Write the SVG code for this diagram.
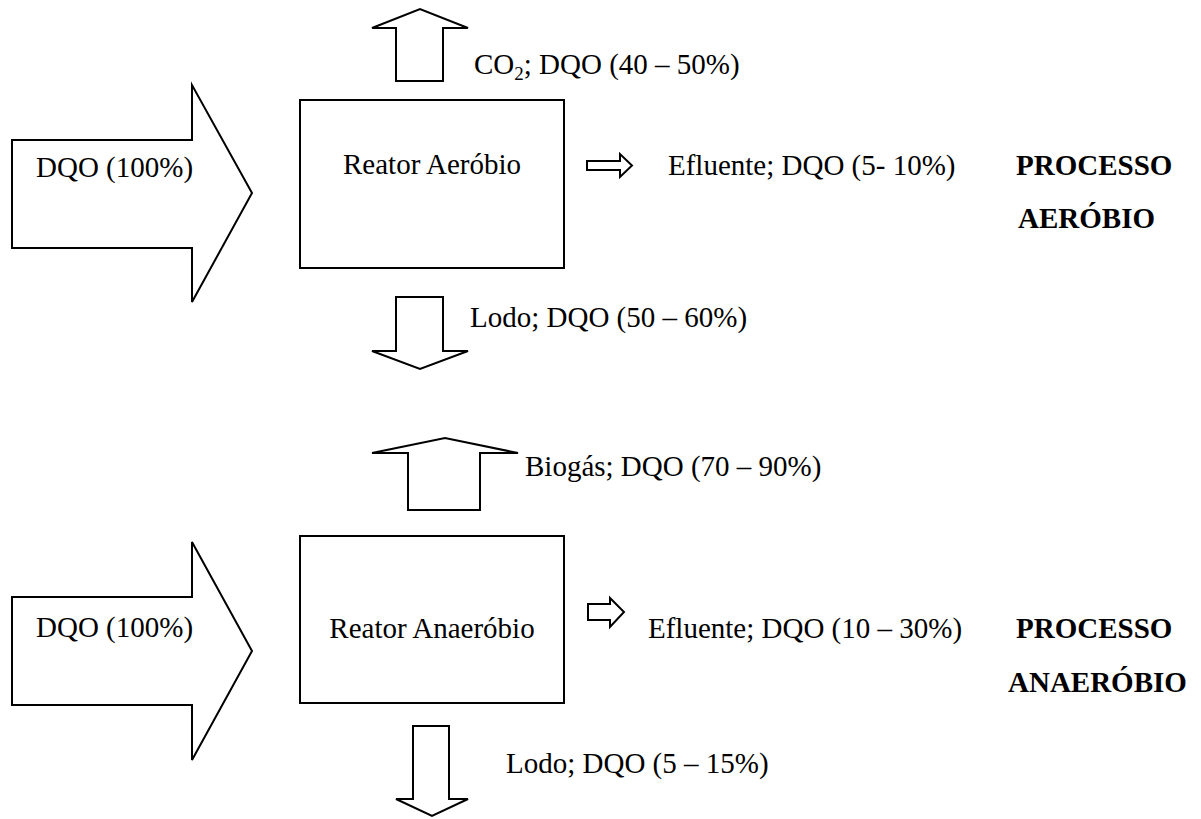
<svg xmlns="http://www.w3.org/2000/svg" width="1201" height="819" viewBox="0 0 1201 819">
  <style>
    .shape { fill: #ffffff; stroke: #000000; stroke-width: 2; stroke-linejoin: miter; }
    .lbl { font-family: "Liberation Serif", "Times New Roman", serif; font-size: 29px; fill: #000000; }
    .mid { text-anchor: middle; }
    .title { font-family: "Liberation Serif", "Times New Roman", serif; font-size: 29px; font-weight: bold; fill: #000000; }
  </style>
  <rect width="1201" height="819" fill="#ffffff"/>

  <!-- Aerobic process -->
  <g id="entrada-aerobio">
    <polygon class="shape" points="12,140 192,140 192,85 252,193 192,302 192,248 12,248"/>
    <text class="lbl" x="36" y="177">DQO (100%)</text>
  </g>
  <g id="reator-aerobio">
    <rect class="shape" x="300" y="100" width="264" height="168"/>
    <text class="lbl mid" x="432" y="174">Reator Aeróbio</text>
  </g>
  <g id="saida-co2">
    <polygon class="shape" points="396,81 396,28 372,28 420,9 468,28 443,28 443,81"/>
    <text class="lbl" x="474" y="74">CO<tspan font-size="19" dy="6">2</tspan><tspan dy="-6">; DQO (40 – 50%)</tspan></text>
  </g>
  <g id="saida-efluente-aerobio">
    <polygon class="shape" points="587,161 620,161 620,154 632,165.5 620,177 620,170 587,170"/>
    <text class="lbl" x="668" y="175">Efluente; DQO (5- 10%)</text>
  </g>
  <g id="saida-lodo-aerobio">
    <polygon class="shape" points="396,297 443,297 443,351 468,351 420,369 372,351 396,351"/>
    <text class="lbl" x="470" y="327">Lodo; DQO (50 – 60%)</text>
  </g>
  <g id="rotulo-aerobio">
    <text class="title" x="1016" y="175">PROCESSO</text>
    <text class="title" x="1018" y="228">AERÓBIO</text>
  </g>

  <!-- Anaerobic process -->
  <g id="entrada-anaerobio">
    <polygon class="shape" points="12,597 192,597 192,542 252,651 192,760 192,705 12,705"/>
    <text class="lbl" x="36" y="637">DQO (100%)</text>
  </g>
  <g id="reator-anaerobio">
    <rect class="shape" x="300" y="536" width="264" height="167"/>
    <text class="lbl mid" x="432" y="638">Reator Anaeróbio</text>
  </g>
  <g id="saida-biogas">
    <polygon class="shape" points="408,510 408,453 372,453 445,438 518,453 480,453 480,510"/>
    <text class="lbl" x="525" y="476">Biogás; DQO (70 – 90%)</text>
  </g>
  <g id="saida-efluente-anaerobio">
    <polygon class="shape" points="588,604 610,604 610,598 624,612 610,627 610,620 588,620"/>
    <text class="lbl" x="648" y="638">Efluente; DQO (10 – 30%)</text>
  </g>
  <g id="saida-lodo-anaerobio">
    <polygon class="shape" points="413,726 449,726 449,799 468,799 432,816 396,799 413,799"/>
    <text class="lbl" x="506" y="773">Lodo; DQO (5 – 15%)</text>
  </g>
  <g id="rotulo-anaerobio">
    <text class="title" x="1016" y="638">PROCESSO</text>
    <text class="title" x="1008" y="692">ANAERÓBIO</text>
  </g>
</svg>
